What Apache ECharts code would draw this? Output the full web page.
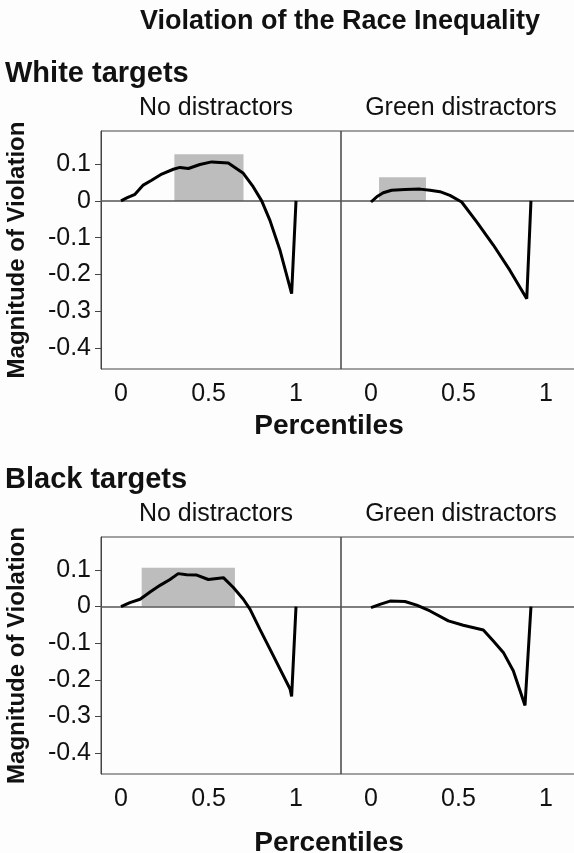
<!DOCTYPE html>
<html>
<head>
<meta charset="utf-8">
<script src="https://cdn.jsdelivr.net/npm/echarts@6/dist/echarts.min.js"></script>
<style>
html,body{margin:0;padding:0;background:#fdfdfd;}
#c{width:574px;height:853px;}
</style>
</head>
<body>
<div id="c"></div>
<script>
// ---- data ----
const mainTitle = 'Violation of the Race Inequality';
const groupTitles = ['White targets', 'Black targets'];
const panelTitles = ['No distractors', 'Green distractors'];
const yAxisTitle = 'Magnitude of Violation';
const xAxisTitle = 'Percentiles';
const xTicks = [0, 0.5, 1];
const yTicks = [-0.4, -0.3, -0.2, -0.1, 0, 0.1];

// White targets, no distractors
const xWhiteNo = [0, 0.033, 0.08, 0.127, 0.175, 0.233, 0.299, 0.337, 0.385, 0.451, 0.518, 0.613, 0.699, 0.756, 0.804, 0.851, 0.909, 0.975, 1.0];
const yWhiteNo = [0, 0.008, 0.018, 0.043, 0.056, 0.073, 0.086, 0.091, 0.088, 0.099, 0.106, 0.103, 0.075, 0.038, 0, -0.053, -0.135, -0.252, 0];
const boxWhiteNo = [0.305, 0.70, 0.127];
// White targets, green distractors
const xWhiteGreen = [0, 0.033, 0.07, 0.118, 0.194, 0.28, 0.337, 0.394, 0.451, 0.518, 0.604, 0.699, 0.794, 0.89, 0.914];
const yWhiteGreen = [-0.003, 0.011, 0.022, 0.029, 0.031, 0.032, 0.029, 0.025, 0.015, -0.003, -0.057, -0.12, -0.189, -0.266, 0];
const boxWhiteGreen = [0.046, 0.314, 0.064];
// Black targets, no distractors
const xBlackNo = [0, 0.051, 0.109, 0.166, 0.223, 0.28, 0.327, 0.375, 0.433, 0.499, 0.585, 0.642, 0.699, 0.737, 0.794, 0.87, 0.966, 0.975, 1.0];
const yBlackNo = [0, 0.011, 0.02, 0.04, 0.058, 0.074, 0.09, 0.087, 0.086, 0.074, 0.079, 0.052, 0.02, -0.007, -0.062, -0.134, -0.225, -0.245, 0];
const boxBlackNo = [0.118, 0.651, 0.106];
// Black targets, green distractors
const xBlackGreen = [0, 0.051, 0.109, 0.194, 0.261, 0.337, 0.442, 0.527, 0.642, 0.699, 0.756, 0.813, 0.88, 0.914];
const yBlackGreen = [-0.003, 0.006, 0.015, 0.014, 0.004, -0.012, -0.039, -0.051, -0.064, -0.094, -0.125, -0.175, -0.27, 0];

// ---- layout ----
const FONT = '"Liberation Sans", Arial, sans-serif';
const panels = [
  {x: xWhiteNo, y: yWhiteNo, box: boxWhiteNo, left: 101, top: 131, width: 240, height: 238, xmin: -0.1143, xmax: 1.2571, first: true},
  {x: xWhiteGreen, y: yWhiteGreen, box: boxWhiteGreen, left: 341, top: 131, width: 236, height: 238, xmin: -0.1714, xmax: 1.1771, first: false},
  {x: xBlackNo, y: yBlackNo, box: boxBlackNo, left: 101, top: 537, width: 240, height: 237, xmin: -0.1143, xmax: 1.2571, first: true},
  {x: xBlackGreen, y: yBlackGreen, box: null, left: 341, top: 537, width: 236, height: 237, xmin: -0.1714, xmax: 1.1771, first: false}
];

const grid = [], xAxis = [], yAxis = [], series = [];
panels.forEach((p, i) => {
  grid.push({left: p.left, top: p.top, width: p.width, height: p.height, containLabel: false, outerBoundsMode: 'none',
    show: true, borderColor: '#444', borderWidth: 1, backgroundColor: 'transparent'});
  xAxis.push({
    type: 'value', gridIndex: i, min: p.xmin, max: p.xmax,
    axisLine: {show: false}, axisTick: {show: false}, splitLine: {show: false},
    axisLabel: {customValues: xTicks, fontSize: 25, color: '#111', fontFamily: FONT, margin: 13,
      formatter: v => String(v)}
  });
  yAxis.push({
    type: 'value', gridIndex: i, min: -0.457, max: 0.19,
    splitLine: {show: false},
    axisLine: {show: p.first, onZero: false, lineStyle: {color: '#444', width: 1}},
    axisTick: {show: p.first, customValues: yTicks, length: 6, lineStyle: {color: '#444'}},
    axisLabel: {show: p.first, customValues: yTicks, fontSize: 25, color: '#111', fontFamily: FONT, margin: 10,
      formatter: v => String(Math.round(v * 10) / 10)},
    name: p.first ? yAxisTitle : '', nameLocation: 'middle', nameGap: 72, nameMoveOverlap: false,
    nameTextStyle: {fontSize: 24, fontWeight: 'bold', color: '#111', fontFamily: FONT}
  });
  const s = {
    type: 'line', xAxisIndex: i, yAxisIndex: i, showSymbol: false, symbol: 'none',
    data: p.x.map((xv, k) => [xv, p.y[k]]),
    lineStyle: {color: '#000', width: 3}, z: 5, animation: false,
    markLine: {silent: true, symbol: 'none', label: {show: false},
      lineStyle: {color: '#555', width: 1.5, type: 'solid'}, data: [{yAxis: 0}]}
  };
  if (p.box) {
    s.markArea = {silent: true, itemStyle: {color: '#bdbdbd'},
      data: [[{coord: [p.box[0], 0]}, {coord: [p.box[1], p.box[2]]}]]};
  }
  series.push(s);
});

const titleStyle = (size, weight) => ({fontSize: size, fontWeight: weight, color: '#111', fontFamily: FONT});
const title = [
  {text: mainTitle, left: 340, top: 8, textAlign: 'center', textStyle: titleStyle(27, 'bold')},
  {text: groupTitles[0], left: 5, top: 59, textStyle: titleStyle(29, 'bold')},
  {text: panelTitles[0], left: 216, top: 96, textAlign: 'center', textStyle: titleStyle(25, 'normal')},
  {text: panelTitles[1], left: 461, top: 96, textAlign: 'center', textStyle: titleStyle(25, 'normal')},
  {text: xAxisTitle, left: 329, top: 412, textAlign: 'center', textStyle: titleStyle(28, 'bold')},
  {text: groupTitles[1], left: 5, top: 465, textStyle: titleStyle(29, 'bold')},
  {text: panelTitles[0], left: 216, top: 502, textAlign: 'center', textStyle: titleStyle(25, 'normal')},
  {text: panelTitles[1], left: 461, top: 502, textAlign: 'center', textStyle: titleStyle(25, 'normal')},
  {text: xAxisTitle, left: 329, top: 829, textAlign: 'center', textStyle: titleStyle(28, 'bold')}
].map(t => Object.assign({padding: 0}, t));

const chart = echarts.init(document.getElementById('c'), null, {renderer: 'canvas'});
chart.setOption({backgroundColor: '#fdfdfd', animation: false, title, grid, xAxis, yAxis, series});
</script>
</body>
</html>
